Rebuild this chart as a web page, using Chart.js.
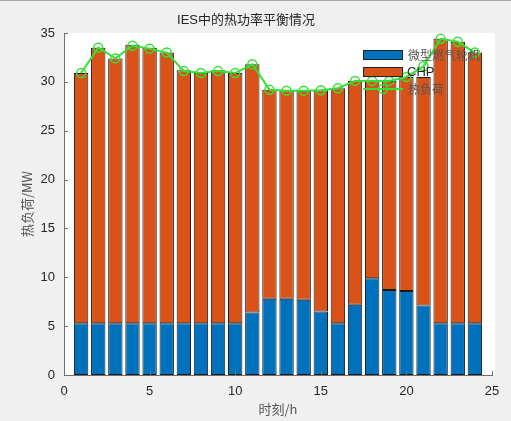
<!DOCTYPE html>
<html>
<head>
<meta charset="utf-8">
<script src="https://cdn.jsdelivr.net/npm/chart.js@4.4.0/dist/chart.umd.min.js"></script>
<style>
  html, body { margin: 0; padding: 0; background: #f0f0f0; }
  #topline { position: absolute; left: 0; top: 0; width: 511px; height: 1px; background: #a8a8a8; }
  #myChart { display: block; }
</style>
</head>
<body>
<div id="topline"></div>
<canvas id="myChart" width="511" height="421"></canvas>
<script>
// hours 1..24
const hours = [1, 2, 3, 4, 5, 6, 7, 8, 9, 10, 11, 12, 13, 14, 15, 16, 17, 18, 19, 20, 21, 22, 23, 24];
// 微型燃气轮机 output (MW)
const microTurbine = [5.3, 5.3, 5.3, 5.3, 5.3, 5.3, 5.3, 5.3, 5.3, 5.3, 6.4, 7.8, 7.8, 7.7, 6.5, 5.3, 7.2, 9.9, 8.7, 8.6, 7.1, 5.3, 5.3, 5.3];
// CHP output (MW)
const chp = [25.6, 28.2, 27.1, 28.5, 28.2, 27.7, 25.9, 25.6, 25.9, 25.6, 25.4, 21.4, 21.35, 21.4, 22.65, 24.05, 22.9, 20.2, 21.4, 21.9, 23.4, 29.1, 28.8, 27.7];
// 热负荷 (MW)
const heatLoad = [30.9, 33.5, 32.4, 33.7, 33.4, 33.0, 31.1, 30.9, 31.1, 30.9, 31.8, 29.2, 29.1, 29.1, 29.15, 29.35, 30.1, 30.1, 30.1, 30.5, 31.6, 34.4, 34.1, 33.0];

const xTicks = [0, 5, 10, 15, 20, 25];
const yTicks = [0, 5, 10, 15, 20, 25, 30, 35];

const blue = "#0072BD";
const orange = "#D95319";
const green = "#35e035";
const axisColor = "#6e6e6e";
const textColor = "#262626";
const sans = "'Liberation Sans', 'Noto Sans CJK SC', sans-serif";
const cjk = "'Noto Sans CJK SC', 'Liberation Sans', sans-serif";

const toPoints = (ys) => hours.map((h, i) => ({ x: h, y: ys[i] }));

// white plot background, slightly past the last tick like the original axes
const plotBackground = {
  id: "plotBackground",
  beforeDraw: (chart) => {
    const { ctx, chartArea: a } = chart;
    ctx.save();
    ctx.fillStyle = "#ffffff";
    ctx.fillRect(a.left, a.top, a.right - a.left + 3, a.bottom - a.top);
    ctx.restore();
  },
};

// inward tick marks, matlab style
const inwardTicks = {
  id: "inwardTicks",
  afterDraw: (chart) => {
    const { ctx, chartArea: a, scales } = chart;
    ctx.save();
    ctx.strokeStyle = axisColor;
    ctx.lineWidth = 1;
    ctx.beginPath();
    xTicks.forEach((v) => {
      const px = Math.round(scales.x.getPixelForValue(v)) + 0.5;
      ctx.moveTo(px, a.bottom);
      ctx.lineTo(px, a.bottom - 4);
    });
    yTicks.forEach((v) => {
      const py = Math.round(scales.y.getPixelForValue(v)) + 0.5;
      ctx.moveTo(a.left, py);
      ctx.lineTo(a.left + 4, py);
    });
    ctx.stroke();
    ctx.restore();
  },
};

// legend inside the plot, top right
const insideLegend = {
  id: "insideLegend",
  afterDraw: (chart) => {
    const { ctx } = chart;
    const ds = chart.data.datasets;
    const x0 = 363, w = 40;
    const rows = [55, 72, 89];
    ctx.save();
    ctx.textBaseline = "middle";
    ctx.textAlign = "left";
    // bar entries
    [1, 2].forEach((di, r) => {
      const y = rows[r];
      ctx.fillStyle = ds[di].backgroundColor;
      ctx.fillRect(x0, y - 5, w, 10);
      ctx.strokeStyle = "#222";
      ctx.lineWidth = 1;
      ctx.strokeRect(x0 + 0.5, y - 5 + 0.5, w - 1, 9);
    });
    // line entry
    const yl = rows[2];
    ctx.strokeStyle = green;
    ctx.lineWidth = 2;
    ctx.beginPath();
    ctx.moveTo(x0, yl);
    ctx.lineTo(x0 + w, yl);
    ctx.stroke();
    ctx.lineWidth = 1.5;
    ctx.beginPath();
    ctx.arc(x0 + w / 2, yl, 4.5, 0, Math.PI * 2);
    ctx.stroke();
    // labels
    ctx.font = "12px " + cjk;
    ctx.fillStyle = "#555555";
    ctx.fillText(ds[1].label, x0 + w + 5, rows[0]);
    ctx.font = "13px " + sans;
    ctx.fillStyle = textColor;
    ctx.fillText(ds[2].label, x0 + w + 4, rows[1]);
    ctx.font = "12px " + cjk;
    ctx.fillStyle = "#555555";
    ctx.fillText(ds[0].label, x0 + w + 5, rows[2]);
    ctx.restore();
  },
};

const canvas = document.getElementById("myChart").getContext("2d");
const myChart = new Chart(canvas, {
  data: {
    datasets: [
      {
        type: "line",
        label: "热负荷",
        data: toPoints(heatLoad),
        borderColor: green,
        borderWidth: 2,
        pointRadius: 4.5,
        pointBorderWidth: 1.5,
        pointBorderColor: green,
        pointBackgroundColor: "rgba(0,0,0,0)",
        tension: 0,
        order: 0,
      },
      {
        type: "bar",
        label: "微型燃气轮机",
        data: toPoints(microTurbine),
        backgroundColor: blue,
        borderColor: "#1a1a1a",
        borderWidth: 1,
        borderSkipped: false,
        barPercentage: 0.84,
        categoryPercentage: 1,
        order: 1,
      },
      {
        type: "bar",
        label: "CHP",
        data: toPoints(chp),
        backgroundColor: orange,
        borderColor: "#1a1a1a",
        borderWidth: 1,
        borderSkipped: false,
        barPercentage: 0.84,
        categoryPercentage: 1,
        order: 1,
      },
    ],
  },
  options: {
    responsive: false,
    animation: false,
    layout: { padding: { left: 0, right: 19, top: 0, bottom: 0 } },
    plugins: {
      legend: { display: false },
      tooltip: { enabled: false },
      title: {
        display: true,
        text: "IES中的热功率平衡情况",
        color: textColor,
        font: { family: sans, size: 13, weight: "normal" },
        padding: { top: 13, bottom: 4.4 },
      },
    },
    scales: {
      x: {
        type: "linear",
        stacked: true,
        offset: false,
        min: 0,
        max: 25,
        afterBuildTicks: (s) => { s.ticks = xTicks.map((v) => ({ value: v })); },
        afterFit: (s) => { s.height = 46; },
        grid: { display: false, offset: false, drawTicks: false },
        border: { display: true, color: axisColor, width: 1 },
        ticks: { color: textColor, font: { family: sans, size: 13 }, padding: 9, maxRotation: 0 },
        title: {
          display: true,
          text: "时刻/h",
          color: "#555555",
          font: { family: cjk, size: 13 },
          padding: { top: 0, bottom: 4 },
        },
      },
      y: {
        stacked: true,
        min: 0,
        max: 35,
        afterBuildTicks: (s) => { s.ticks = yTicks.map((v) => ({ value: v })); },
        afterFit: (s) => { s.width = 64; },
        grid: { display: false, drawTicks: false },
        border: { display: true, color: axisColor, width: 1 },
        ticks: { color: textColor, font: { family: sans, size: 13 }, padding: 9 },
        title: {
          display: true,
          text: "热负荷/MW",
          color: "#555555",
          font: { family: cjk, size: 13 },
          padding: { top: 19, bottom: 0 },
        },
      },
    },
  },
  plugins: [plotBackground, inwardTicks, insideLegend],
});
</script>
</body>
</html>
